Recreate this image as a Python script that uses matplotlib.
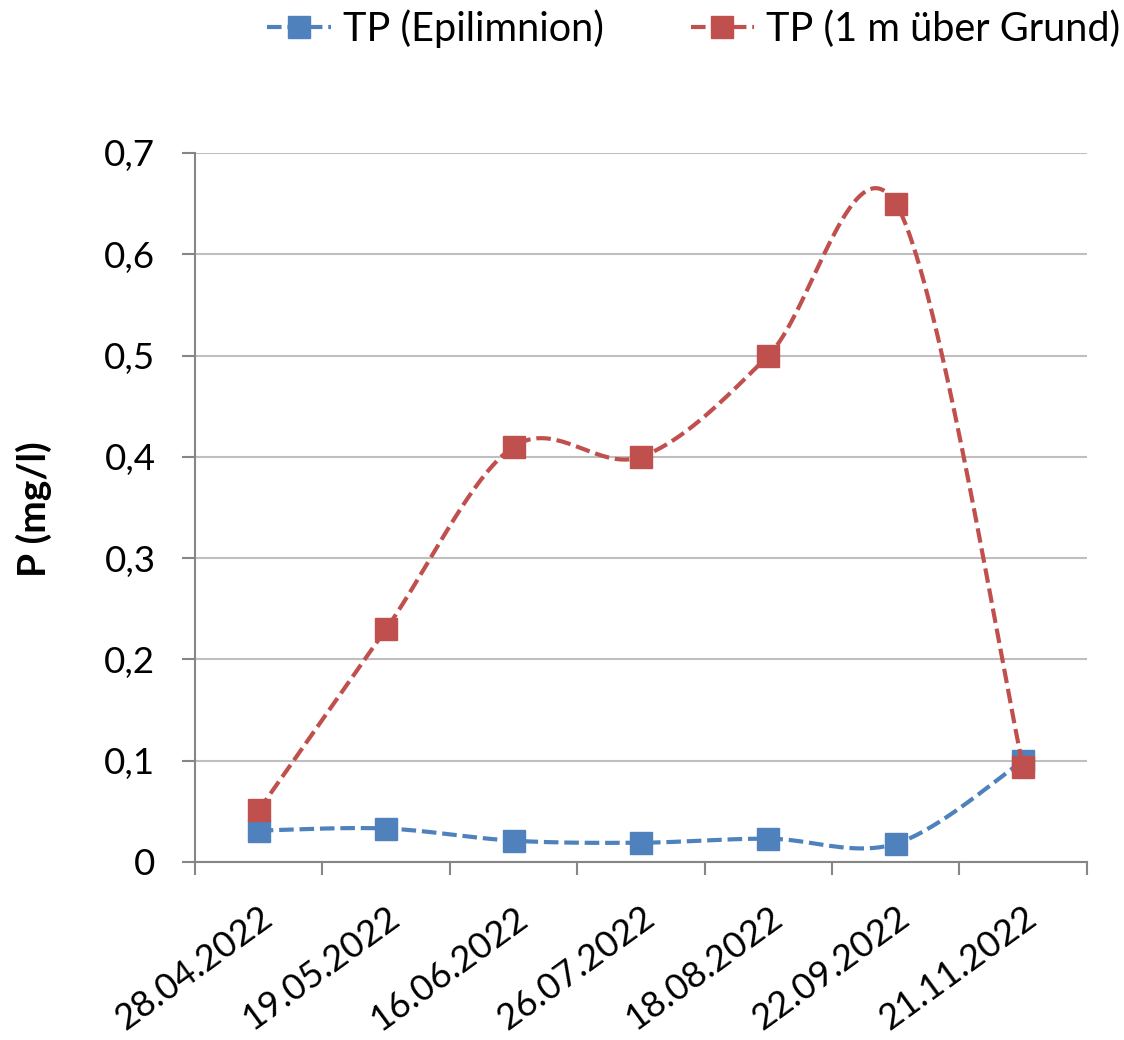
import numpy as np
import matplotlib
matplotlib.use("Agg")
import matplotlib.pyplot as plt
from matplotlib.lines import Line2D
from matplotlib.transforms import ScaledTranslation

plt.rcParams['font.family'] = ['Lato', 'DejaVu Sans']

dates = ["28.04.2022", "19.05.2022", "16.06.2022", "26.07.2022",
         "18.08.2022", "22.09.2022", "21.11.2022"]
tp_epi = [0.031, 0.033, 0.021, 0.019, 0.023, 0.018, 0.100]
tp_grund = [0.051, 0.230, 0.410, 0.400, 0.500, 0.650, 0.094]
yticks = [0, 0.1, 0.2, 0.3, 0.4, 0.5, 0.6, 0.7]
ytick_labels = ["0", "0,1", "0,2", "0,3", "0,4", "0,5", "0,6", "0,7"]

blue = "#4F81BD"
red = "#C0504D"


def excel_smooth(x, y, n=40):
    x = np.asarray(x, float)
    y = np.asarray(y, float)
    xs, ys = [], []
    m = len(x)
    for i in range(m - 1):
        p0 = np.array([x[max(i - 1, 0)], y[max(i - 1, 0)]])
        p1 = np.array([x[i], y[i]])
        p2 = np.array([x[i + 1], y[i + 1]])
        p3 = np.array([x[min(i + 2, m - 1)], y[min(i + 2, m - 1)]])
        c1 = p1 + (p2 - p0) / 6.0
        c2 = p2 - (p3 - p1) / 6.0
        t = np.linspace(0, 1, n)[:, None]
        pts = ((1 - t) ** 3) * p1 + 3 * ((1 - t) ** 2) * t * c1 + 3 * (1 - t) * t ** 2 * c2 + t ** 3 * p2
        xs.extend(pts[:, 0])
        ys.extend(pts[:, 1])
    return np.array(xs), np.array(ys)


fig = plt.figure(figsize=(11.24, 10.4), dpi=100)
ax = fig.add_axes([0.1735, 0.1712, 0.7935, 0.6817])

xpos = np.arange(len(dates))
xscale = 127.4  # px per category
yscale = 1013.0  # px per unit
dash = (0, (3.5, 1.4))
for vals, col, z in [(tp_epi, blue, 3), (tp_grund, red, 4)]:
    sx, sy = excel_smooth(xpos * xscale, np.array(vals) * yscale)
    ax.plot(sx / xscale, sy / yscale, color=col, lw=3, ls=dash, zorder=z)
    ax.plot(xpos, vals, ls='none', marker='s', ms=16, color=col,
            markeredgecolor=col, zorder=z + 0.5)

ax.set_xlim(-0.5, len(dates) - 0.5)
ax.set_ylim(0, 0.7)
ax.set_yticks(yticks)
ax.set_yticklabels(ytick_labels)
ax.set_xticks(xpos)
ax.set_xticklabels(dates, rotation=36, ha='right', va='top', rotation_mode='anchor')
for lab in ax.get_xticklabels():
    lab.set_transform(lab.get_transform() + ScaledTranslation(0.07, 0, fig.dpi_scale_trans))
ax.set_xticks(np.arange(-0.5, len(dates)), minor=True)
ax.tick_params(axis='x', which='major', length=0, pad=28, labelsize=26)
ax.tick_params(axis='x', which='minor', length=9.5, width=1.5, color='#868686')
ax.tick_params(axis='y', length=9.5, width=1.5, color='#868686', labelsize=26.5, pad=19)
ax.yaxis.grid(True, color='#BFBFBF', lw=1.5)
ax.set_axisbelow(True)
for s in ['top', 'right']:
    ax.spines[s].set_visible(False)
for s in ['left', 'bottom']:
    ax.spines[s].set_color('#868686')
    ax.spines[s].set_linewidth(1.5)

ax.set_ylabel("P (mg/l)", fontsize=28, fontweight='bold')
ax.yaxis.set_label_coords(-0.160, 0.498)

handles = [Line2D([], [], color=blue, lw=3, ls=dash, marker='s', ms=16),
           Line2D([], [], color=red, lw=3, ls=dash, marker='s', ms=16)]
fig.legend(handles, ["TP (Epilimnion)", "TP (1 m über Grund)"], loc='upper right',
           bbox_to_anchor=(1.028, 1.025), ncol=2, frameon=False, fontsize=28.5,
           handlelength=1.6, columnspacing=2.2, handletextpad=0.3)

fig.savefig("out.png", dpi=100)
